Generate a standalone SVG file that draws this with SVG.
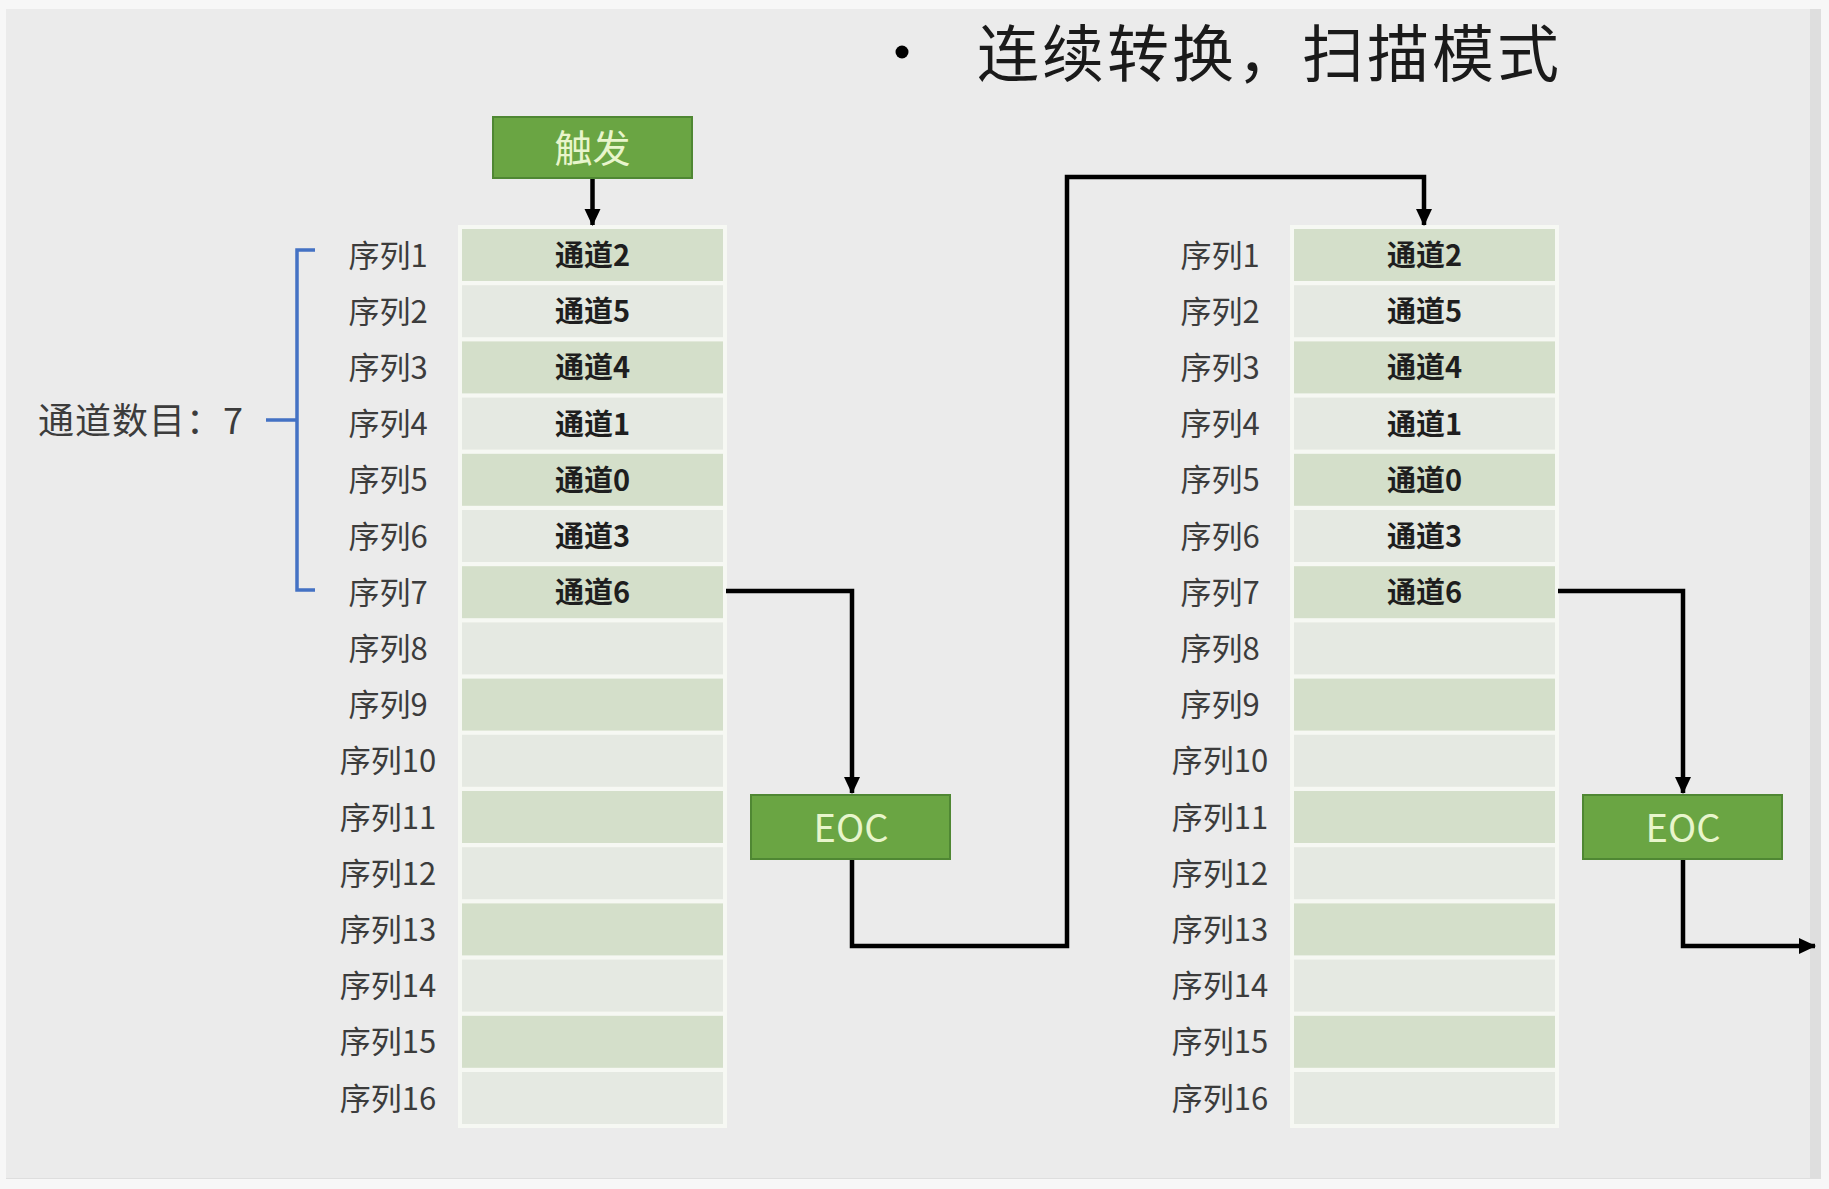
<svg xmlns="http://www.w3.org/2000/svg" width="1829" height="1189" viewBox="0 0 1829 1189">
<defs>
<style>
.seq{font-family:"Noto Sans CJK SC","Liberation Sans",sans-serif;font-size:31px;fill:#3c3c3c;text-anchor:middle;dominant-baseline:central}
.ch{font-family:"Noto Sans CJK SC","Liberation Sans",sans-serif;font-size:29px;font-weight:bold;fill:#1e1e1e;text-anchor:middle;dominant-baseline:central}
.odd{fill:#d4dfca}
.even{fill:#e5e9e2}
.frame{fill:#f6f8f3}
.box{fill:#6aa543;stroke:#4f8733;stroke-width:2}
.boxt{font-family:"Noto Sans CJK SC","Liberation Sans",sans-serif;font-size:38px;fill:#e8f5cc;text-anchor:middle;dominant-baseline:central}
.wire{fill:none;stroke:#000;stroke-width:4.5;stroke-linejoin:miter}
</style>
<marker id="ah" markerUnits="userSpaceOnUse" markerWidth="18" markerHeight="18" viewBox="0 0 18 18" refX="16" refY="9" orient="auto">
<path d="M0,1 L17,9 L0,17 Z" fill="#000"/>
</marker>
<g id="col">
<rect class="frame" x="-4" y="-4" width="269" height="903"/>
<rect class="odd" x="0" y="0" width="261" height="52"/>
<rect class="even" x="0" y="56.2" width="261" height="52"/>
<rect class="odd" x="0" y="112.4" width="261" height="52"/>
<rect class="even" x="0" y="168.6" width="261" height="52"/>
<rect class="odd" x="0" y="224.8" width="261" height="52"/>
<rect class="even" x="0" y="281" width="261" height="52"/>
<rect class="odd" x="0" y="337.2" width="261" height="52"/>
<rect class="even" x="0" y="393.4" width="261" height="52"/>
<rect class="odd" x="0" y="449.6" width="261" height="52"/>
<rect class="even" x="0" y="505.8" width="261" height="52"/>
<rect class="odd" x="0" y="562" width="261" height="52"/>
<rect class="even" x="0" y="618.2" width="261" height="52"/>
<rect class="odd" x="0" y="674.4" width="261" height="52"/>
<rect class="even" x="0" y="730.6" width="261" height="52"/>
<rect class="odd" x="0" y="786.8" width="261" height="52"/>
<rect class="even" x="0" y="843" width="261" height="52"/>
<text class="ch" x="130.5" y="24">通道2</text>
<text class="ch" x="130.5" y="80.2">通道5</text>
<text class="ch" x="130.5" y="136.4">通道4</text>
<text class="ch" x="130.5" y="192.6">通道1</text>
<text class="ch" x="130.5" y="248.8">通道0</text>
<text class="ch" x="130.5" y="305">通道3</text>
<text class="ch" x="130.5" y="361.2">通道6</text>
<text class="seq" x="-74" y="24">序列1</text>
<text class="seq" x="-74" y="80.2">序列2</text>
<text class="seq" x="-74" y="136.4">序列3</text>
<text class="seq" x="-74" y="192.6">序列4</text>
<text class="seq" x="-74" y="248.8">序列5</text>
<text class="seq" x="-74" y="305">序列6</text>
<text class="seq" x="-74" y="361.2">序列7</text>
<text class="seq" x="-74" y="417.4">序列8</text>
<text class="seq" x="-74" y="473.6">序列9</text>
<text class="seq" x="-74" y="529.8">序列10</text>
<text class="seq" x="-74" y="586">序列11</text>
<text class="seq" x="-74" y="642.2">序列12</text>
<text class="seq" x="-74" y="698.4">序列13</text>
<text class="seq" x="-74" y="754.6">序列14</text>
<text class="seq" x="-74" y="810.8">序列15</text>
<text class="seq" x="-74" y="867">序列16</text>
</g>
</defs>
<rect x="0" y="0" width="1829" height="1189" fill="#f7f7f7"/>
<rect x="6" y="9" width="1815" height="1170" fill="#dedede"/>
<rect x="6" y="9" width="1804" height="1169" fill="#ebebeb"/>

<g id="title">
<circle cx="902" cy="52" r="6.5" fill="#000"/>
<text x="977" y="50" font-family="Noto Sans CJK SC,Liberation Sans,sans-serif" font-size="62" fill="#1a1a1a" dominant-baseline="central" letter-spacing="3">连续转换，扫描模式</text>
</g>

<g id="channel-count">
<text x="38" y="418" font-family="Noto Sans CJK SC,Liberation Sans,sans-serif" font-size="36" fill="#3c3c3c" dominant-baseline="central" letter-spacing="1">通道数目：7</text>
<path d="M266,420 H297 M315,250 H297 V590 H315" fill="none" stroke="#4472c4" stroke-width="3.5"/>
</g>

<g id="left-sequence">
<use href="#col" x="462" y="229"/>
</g>
<g id="right-sequence">
<use href="#col" x="1294" y="229"/>
</g>

<g id="trigger">
<rect class="box" x="493" y="117" width="199" height="61"/>
<text class="boxt" x="592.5" y="145">触发</text>
</g>
<g id="eoc-left">
<rect class="box" x="751" y="795" width="199" height="64"/>
<text class="boxt" x="851" y="825">EOC</text>
</g>
<g id="eoc-right">
<rect class="box" x="1583" y="795" width="199" height="64"/>
<text class="boxt" x="1683" y="825">EOC</text>
</g>

<g id="connectors">
<path class="wire" d="M592.5,179 V225" marker-end="url(#ah)"/>
<path class="wire" d="M726,591 H852 V793" marker-end="url(#ah)"/>
<path class="wire" d="M852,860 V946 H1067 V177 H1424 V225" marker-end="url(#ah)"/>
<path class="wire" d="M1558,591 H1683 V793" marker-end="url(#ah)"/>
<path class="wire" d="M1683,860 V946 H1815" marker-end="url(#ah)"/>
</g>
</svg>
